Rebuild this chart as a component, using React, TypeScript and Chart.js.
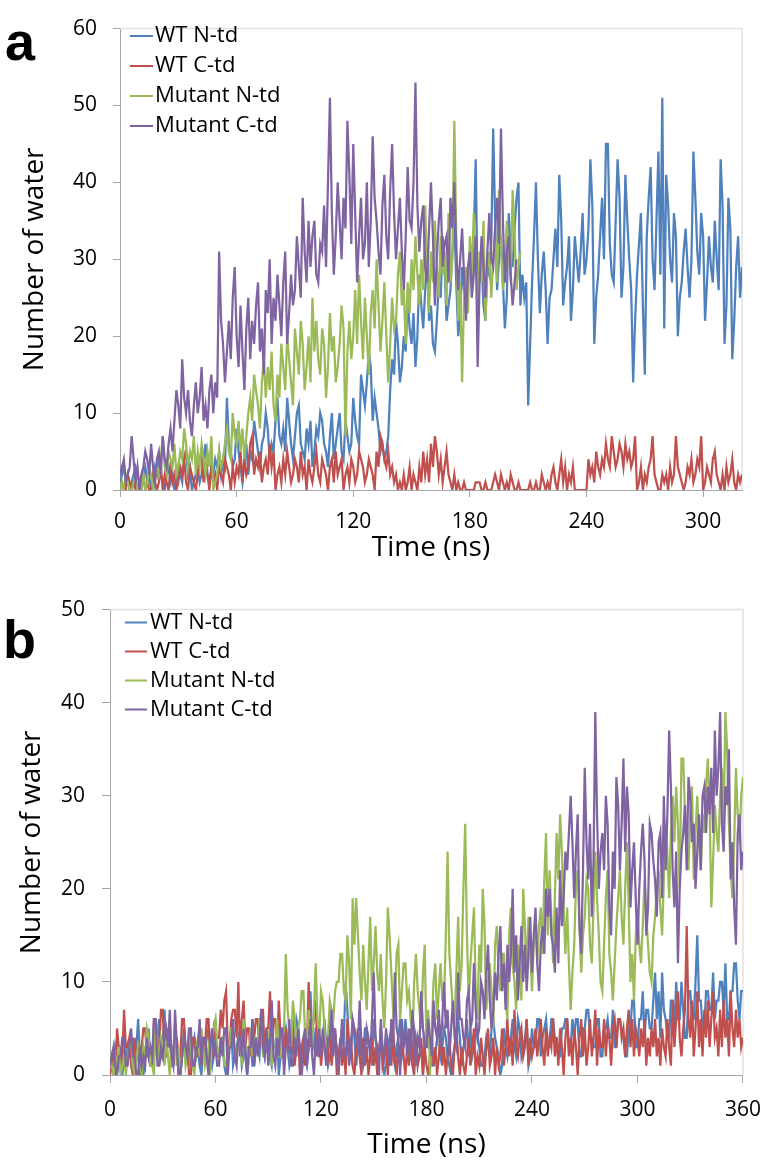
import React, { useEffect, useRef } from "react";
import { Chart, registerables } from "chart.js";

Chart.register(...registerables);

// ---------- shared ----------
const SERIES_NAMES = ["WT N-td", "WT C-td", "Mutant N-td", "Mutant C-td"];
const SERIES_COLORS = ["#4F81BD", "#C0504D", "#9BBB59", "#8064A2"];
const TIME_STEP_NS = 1;
const X_TITLE = "Time (ns)";
const Y_TITLE = "Number of water";

// ---------- panel a (one value per ns) ----------
const A_X_MAX = 320;
const A_Y_MAX = 60;
const A_X_TICKS = [0, 60, 120, 180, 240, 300];
const A_Y_TICKS = [0, 10, 20, 30, 40, 50, 60];

const A_WT_N = [
  1, 2, 3, 1, 2, 0, 1, 2, 3, 2, 1, 0, 2, 3, 1, 2, 0, 1, 3, 2,
  4, 2, 1, 0, 2, 3, 1, 2, 0, 1, 3, 2, 1, 4, 5, 2, 3, 0, 1, 2,
  3, 1, 2, 4, 6, 2, 1, 3, 2, 4, 3, 5, 2, 4, 3, 12, 6, 5, 3, 4,
  8, 5, 3, 1, 4, 6, 2, 5, 4, 9, 7, 5, 3, 6, 7, 10, 8, 4, 6, 5,
  9, 12, 7, 6, 8, 5, 12, 9, 6, 4, 7, 10, 11, 6, 5, 4, 8, 6, 9, 3,
  5, 8, 7, 10, 9, 6, 5, 3, 7, 10, 4, 6, 8, 10, 5, 4, 9, 7, 5, 6,
  12, 9, 7, 6, 15, 13, 11, 14, 18, 16, 9, 12, 10, 8, 5, 6, 4, 5, 7, 13,
  17, 15, 22, 19, 14, 16, 20, 18, 25, 21, 19, 23, 16, 20, 28, 24, 21, 26, 30, 22,
  24, 19, 18, 22, 27, 25, 33, 29, 22, 24, 26, 31, 35, 27, 20, 23, 29, 26, 24, 28,
  31, 27, 33, 43, 25, 28, 30, 24, 22, 29, 28, 32, 47, 35, 26, 30, 33, 27, 21, 25,
  36, 31, 29, 34, 38, 40, 24, 28, 25, 27, 11, 19, 27, 33, 40, 30, 23, 28, 31, 26,
  19, 25, 26, 30, 34, 29, 41, 35, 24, 27, 29, 33, 22, 26, 33, 30, 27, 31, 36, 28,
  30, 34, 43, 37, 19, 25, 28, 33, 38, 30, 45, 45, 32, 28, 27, 35, 43, 38, 25, 29,
  41, 35, 30, 26, 14, 22, 28, 32, 36, 24, 15, 33, 38, 42, 30, 26, 35, 44, 28, 51,
  21, 41, 37, 30, 27, 36, 33, 20, 25, 27, 31, 34, 29, 25, 30, 44, 38, 31, 28, 36,
  33, 22, 27, 33, 29, 27, 35, 30, 26, 43, 37, 19, 24, 38, 34, 17, 22, 29, 33, 25,
  29,
];
const A_WT_C = [
  0, 1, 0, 0, 2, 1, 0, 1, 0, 0, 1, 0, 2, 0, 1, 0, 0, 2, 1, 0,
  1, 3, 0, 2, 1, 0, 3, 1, 2, 0, 1, 3, 2, 4, 1, 0, 3, 2, 1, 0,
  2, 4, 5, 1, 3, 2, 0, 3, 1, 2, 0, 3, 2, 1, 4, 3, 2, 0, 3, 1,
  3, 2, 5, 1, 4, 2, 3, 6, 7, 2, 4, 3, 5, 1, 3, 4, 2, 6, 3, 5,
  0, 2, 3, 1, 4, 2, 5, 3, 1, 2, 4, 3, 1, 5, 2, 3, 0, 4, 2, 1,
  3, 5, 2, 1, 4, 3, 2, 0, 3, 4, 1, 5, 2, 3, 4, 0, 2, 3, 1, 4,
  3, 1, 2, 5, 4, 3, 1, 2, 4, 3, 2, 0, 5, 3, 7, 6, 4, 3, 5, 2,
  3, 1, 2, 0, 1, 0, 2, 0, 1, 3, 0, 2, 1, 0, 3, 1, 5, 2, 4, 1,
  6, 3, 7, 5, 2, 4, 1, 3, 5, 2, 1, 0, 2, 0, 1, 0, 0, 1, 0, 0,
  0, 0, 0, 1, 1, 1, 0, 0, 1, 0, 0, 0, 1, 2, 1, 0, 2, 1, 0, 1,
  0, 2, 1, 0, 0, 1, 0, 0, 0, 0, 0, 1, 0, 0, 1, 0, 0, 2, 1, 0,
  1, 0, 2, 3, 1, 0, 2, 4, 1, 3, 0, 2, 1, 3, 0, 0, 0, 0, 0, 0,
  0, 4, 2, 3, 1, 5, 3, 2, 4, 3, 6, 4, 3, 7, 5, 3, 4, 6, 5, 3,
  6, 4, 5, 3, 4, 7, 0, 1, 3, 0, 2, 1, 3, 4, 7, 2, 1, 0, 0, 2,
  1, 2, 0, 3, 1, 2, 7, 3, 2, 1, 0, 1, 3, 2, 4, 1, 2, 4, 3, 7,
  0, 1, 3, 2, 1, 4, 5, 2, 1, 0, 2, 0, 3, 1, 2, 4, 1, 0, 2, 1,
  2,
];
const A_MUT_N = [
  0, 1, 0, 2, 1, 0, 0, 1, 2, 0, 1, 0, 2, 0, 1, 3, 2, 0, 1, 3,
  2, 4, 7, 3, 2, 5, 4, 3, 6, 2, 3, 5, 4, 8, 6, 3, 5, 4, 7, 2,
  5, 3, 6, 4, 2, 5, 3, 7, 0, 1, 2, 5, 3, 4, 6, 8, 5, 4, 10, 7,
  6, 9, 5, 8, 4, 7, 10, 12, 9, 15, 13, 11, 8, 14, 17, 12, 16, 13, 18, 11,
  9, 15, 12, 19, 16, 13, 20, 17, 14, 11, 21, 18, 15, 22, 19, 13, 16, 20, 14, 25,
  18, 22, 17, 15, 21, 19, 12, 16, 23, 18, 20, 14, 16, 19, 24, 21, 7, 18, 22, 17,
  20, 26, 19, 28, 22, 17, 25, 20, 15, 23, 26, 21, 30, 24, 18, 22, 27, 20, 14, 19,
  25, 21, 22, 28, 31, 24, 26, 19, 27, 23, 30, 26, 33, 28, 24, 30, 26, 37, 29, 23,
  31, 27, 35, 29, 25, 33, 28, 31, 24, 36, 27, 30, 48, 33, 22, 27, 14, 25, 29, 23,
  33, 28, 36, 30, 24, 31, 27, 35, 22, 29, 31, 25, 30, 34, 27, 39, 32, 26, 28, 35,
  31, 27, 39, 33, 26, 29, 31,
];
const A_MUT_C = [
  2, 3, 4, 1, 2, 3, 7, 4, 1, 3, 0, 2, 3, 5, 4, 2, 6, 3, 1, 4,
  5, 2, 7, 4, 3, 6, 8, 5, 9, 13, 11, 8, 17, 12, 10, 13, 9, 7, 11, 14,
  10, 12, 16, 9, 11, 8, 13, 15, 10, 14, 12, 31, 22, 19, 14, 18, 22, 17, 25, 29,
  20, 16, 24, 18, 13, 21, 25, 17, 22, 19, 24, 27, 18, 21, 15, 26, 23, 30, 19, 25,
  22, 28, 24, 20, 27, 31, 19, 23, 28, 24, 26, 33, 29, 25, 38, 31, 27, 35, 29, 33,
  35, 28, 27, 32, 31, 37, 29, 40, 51, 36, 28, 33, 40, 35, 30, 38, 34, 48, 41, 32,
  45, 36, 27, 33, 38, 30, 32, 40, 29, 35, 46, 38, 35, 31, 28, 37, 41, 33, 30, 39,
  45, 36, 30, 34, 38, 31, 26, 33, 42, 35, 34, 40, 53, 37, 31, 35, 37, 29, 27, 34,
  40, 33, 24, 30, 35, 38, 29, 32, 33, 27, 38, 34, 40, 31, 26, 30, 34, 28, 22, 29,
  31, 25, 28, 33, 16, 27, 33, 29, 25, 31, 36, 30, 29, 34, 38, 32, 47, 35, 27, 31,
  33, 28, 24, 27, 30,
];

// ---------- panel b (one value per ns) ----------
const B_X_MAX = 360;
const B_Y_MAX = 50;
const B_X_TICKS = [0, 60, 120, 180, 240, 300, 360];
const B_Y_TICKS = [0, 10, 20, 30, 40, 50];

const B_WT_N = [
  1, 2, 0, 3, 2, 1, 3, 0, 2, 1, 3, 2, 2, 4, 1, 3, 6, 2, 3, 0,
  2, 3, 5, 1, 1, 2, 3, 4, 6, 2, 3, 7, 2, 4, 4, 1, 1, 3, 3, 0,
  0, 2, 5, 3, 2, 4, 1, 3, 4, 2, 3, 1, 0, 3, 2, 4, 5, 2, 1, 3,
  6, 2, 2, 4, 4, 1, 0, 3, 3, 5, 1, 2, 3, 4, 5, 1, 2, 3, 0, 2,
  4, 1, 1, 3, 3, 2, 6, 4, 2, 3, 4, 2, 1, 3, 3, 5, 0, 2, 2, 4,
  5, 3, 1, 2, 3, 4, 6, 5, 2, 3, 4, 2, 1, 3, 9, 4, 3, 5, 5, 2,
  2, 4, 6, 3, 1, 2, 3, 5, 4, 3, 2, 3, 5, 4, 10, 7, 3, 2, 6, 4,
  1, 3, 4, 2, 2, 5, 5, 3, 3, 1, 6, 4, 2, 3, 4, 2, 0, 1, 3, 4,
  5, 2, 1, 3, 4, 6, 2, 3, 6, 4, 3, 2, 1, 5, 4, 2, 2, 3, 0, 4,
  5, 3, 3, 1, 1, 2, 4, 5, 2, 3, 5, 4, 2, 1, 0, 2, 3, 5, 6, 4,
  1, 3, 4, 6, 2, 5, 2, 3, 5, 4, 3, 1, 1, 2, 4, 3, 2, 5, 6, 4,
  3, 2, 0, 1, 5, 3, 2, 4, 4, 6, 3, 2, 6, 5, 2, 3, 4, 6, 1, 2,
  5, 3, 3, 6, 6, 2, 4, 5, 6, 3, 3, 6, 6, 4, 4, 2, 2, 5, 5, 6,
  6, 3, 3, 6, 4, 6, 6, 2, 2, 5, 5, 7, 7, 4, 4, 3, 3, 6, 6, 2,
  2, 5, 5, 6, 4, 4, 7, 3, 3, 6, 6, 5, 4, 2, 2, 5, 5, 8, 8, 3,
  3, 6, 6, 9, 4, 7, 7, 5, 5, 8, 11, 6, 9, 4, 11, 7, 6, 4, 4, 8,
  8, 5, 10, 6, 6, 10, 7, 4, 4, 9, 9, 6, 6, 10, 15, 8, 8, 5, 5, 9,
  9, 7, 7, 11, 6, 8, 8, 10, 10, 7, 12, 6, 6, 9, 9, 12, 12, 8, 6, 9,
  9,
];
const B_WT_C = [
  0, 1, 2, 0, 5, 3, 1, 2, 7, 3, 3, 4, 1, 0, 4, 2, 2, 0, 3, 5,
  5, 2, 2, 1, 1, 6, 6, 3, 3, 7, 7, 2, 2, 5, 3, 3, 1, 4, 4, 2,
  2, 6, 6, 3, 3, 0, 0, 4, 4, 2, 2, 5, 1, 3, 3, 6, 6, 2, 2, 5,
  4, 4, 4, 7, 5, 8, 9, 3, 3, 6, 7, 7, 4, 10, 2, 6, 8, 3, 5, 5,
  2, 6, 4, 6, 6, 3, 7, 7, 2, 5, 5, 9, 3, 6, 6, 2, 8, 4, 4, 1,
  5, 3, 3, 2, 6, 1, 3, 5, 0, 2, 4, 1, 3, 10, 3, 5, 6, 8, 2, 4,
  1, 3, 5, 3, 2, 6, 1, 3, 5, 0, 2, 4, 1, 3, 0, 6, 2, 4, 1, 0,
  3, 5, 2, 0, 4, 1, 3, 0, 2, 4, 1, 3, 0, 2, 5, 1, 2, 4, 0, 3,
  1, 5, 2, 0, 3, 1, 4, 2, 0, 3, 1, 5, 2, 0, 4, 1, 2, 4, 0, 3,
  1, 0, 2, 4, 1, 3, 0, 2, 5, 1, 3, 0, 2, 4, 1, 0, 3, 5, 2, 0,
  3, 1, 0, 2, 4, 1, 3, 5, 0, 2, 1, 4, 2, 0, 3, 5, 1, 2, 4, 0,
  3, 1, 2, 5, 1, 3, 6, 2, 4, 1, 7, 3, 2, 4, 5, 2, 3, 6, 1, 4,
  2, 3, 5, 2, 4, 6, 3, 1, 5, 2, 4, 3, 6, 2, 4, 1, 5, 3, 0, 4,
  6, 2, 4, 1, 5, 3, 0, 4, 6, 2, 5, 1, 3, 6, 2, 4, 7, 1, 5, 3,
  3, 6, 2, 5, 4, 1, 5, 6, 3, 6, 6, 4, 5, 2, 5, 7, 3, 6, 2, 5,
  4, 2, 5, 3, 6, 1, 4, 2, 5, 3, 6, 2, 4, 1, 5, 3, 2, 6, 3, 1,
  8, 3, 6, 9, 4, 2, 5, 7, 16, 6, 4, 8, 2, 5, 9, 3, 6, 2, 7, 4,
  8, 3, 6, 9, 4, 5, 2, 7, 3, 8, 4, 6, 2, 9, 5, 3, 7, 4, 6, 3,
  4,
];
const B_MUT_N = [
  2, 1, 0, 2, 1, 3, 0, 1, 2, 0, 2, 3, 4, 1, 0, 2, 3, 1, 0, 3,
  2, 5, 4, 1, 1, 0, 6, 3, 2, 4, 3, 1, 4, 2, 0, 3, 2, 5, 1, 3,
  0, 2, 4, 1, 2, 5, 3, 1, 0, 3, 4, 2, 5, 3, 1, 2, 3, 0, 4, 5,
  6, 3, 2, 4, 4, 1, 1, 3, 3, 5, 5, 2, 2, 4, 4, 1, 6, 3, 3, 2,
  5, 2, 4, 4, 3, 6, 6, 2, 2, 4, 4, 5, 1, 3, 3, 6, 2, 2, 4, 5,
  13, 7, 5, 3, 8, 6, 3, 5, 6, 9, 9, 4, 4, 7, 5, 3, 7, 12, 6, 4,
  9, 8, 5, 2, 4, 8, 7, 6, 9, 10, 10, 13, 13, 9, 8, 15, 12, 6, 19, 14,
  19, 15, 11, 8, 14, 10, 7, 12, 17, 9, 12, 16, 11, 9, 13, 8, 5, 10, 18, 15,
  11, 7, 8, 13, 14, 6, 9, 12, 12, 8, 9, 6, 4, 10, 13, 9, 7, 5, 11, 14,
  3, 7, 0, 5, 10, 12, 6, 9, 12, 8, 8, 15, 24, 13, 10, 7, 6, 11, 17, 9,
  12, 20, 27, 15, 8, 12, 15, 18, 9, 6, 14, 11, 20, 16, 7, 10, 12, 9, 5, 14,
  16, 11, 9, 13, 13, 8, 6, 15, 18, 12, 10, 7, 14, 11, 8, 20, 16, 11, 17, 13,
  9, 14, 17, 12, 16, 18, 13, 21, 26, 15, 22, 17, 12, 19, 26, 21, 28, 24, 18, 13,
  18, 12, 7, 11, 14, 20, 22, 16, 11, 15, 17, 21, 20, 14, 12, 18, 24, 19, 15, 10,
  9, 14, 19, 22, 13, 11, 8, 12, 16, 19, 22, 17, 14, 20, 25, 18, 10, 13, 8, 15,
  18, 14, 12, 16, 21, 17, 14, 11, 10, 15, 17, 20, 22, 18, 15, 21, 27, 24, 19, 26,
  30, 25, 31, 27, 20, 34, 34, 28, 24, 22, 28, 31, 21, 26, 30, 25, 22, 28, 26, 31,
  34, 29, 18, 23, 29, 26, 24, 30, 33, 27, 39, 35, 27, 22, 19, 25, 33, 28, 25, 30,
  32,
];
const B_MUT_C = [
  1, 2, 3, 1, 0, 2, 2, 4, 4, 1, 1, 3, 5, 2, 2, 0, 0, 3, 1, 2,
  1, 4, 2, 3, 2, 6, 6, 1, 1, 3, 2, 4, 5, 3, 7, 2, 1, 7, 3, 0,
  0, 2, 4, 3, 2, 5, 5, 1, 1, 3, 3, 6, 1, 4, 4, 2, 0, 3, 5, 2,
  3, 1, 1, 4, 2, 5, 5, 0, 3, 3, 6, 2, 1, 4, 4, 2, 5, 2, 0, 3,
  3, 6, 1, 4, 2, 4, 7, 3, 2, 5, 1, 3, 8, 2, 1, 4, 2, 5, 5, 0,
  3, 3, 6, 1, 1, 4, 2, 5, 3, 0, 2, 5, 1, 3, 6, 2, 0, 4, 2, 5,
  2, 5, 3, 1, 4, 4, 7, 2, 5, 2, 0, 3, 6, 2, 2, 4, 1, 3, 6, 5,
  4, 3, 8, 3, 1, 2, 5, 4, 2, 6, 11, 4, 3, 0, 6, 3, 2, 5, 3, 1,
  6, 3, 11, 5, 4, 0, 6, 3, 5, 2, 5, 2, 7, 4, 1, 4, 3, 9, 5, 3,
  3, 6, 4, 2, 8, 5, 4, 7, 3, 6, 10, 5, 7, 2, 5, 8, 4, 3, 11, 6,
  6, 4, 3, 8, 9, 5, 6, 12, 7, 4, 5, 10, 9, 6, 11, 14, 8, 5, 7, 11,
  8, 13, 16, 9, 12, 7, 14, 10, 13, 20, 11, 15, 8, 12, 16, 10, 14, 9, 13, 17,
  11, 15, 18, 12, 9, 14, 16, 13, 20, 17, 20, 15, 14, 11, 18, 12, 22, 16, 19, 24,
  22, 26, 30, 25, 19, 24, 28, 16, 13, 22, 33, 25, 21, 27, 17, 23, 39, 28, 20, 24,
  26, 22, 30, 27, 18, 15, 24, 20, 32, 29, 22, 27, 34, 24, 31, 28, 18, 22, 25, 19,
  14, 20, 24, 27, 23, 15, 18, 27, 26, 23, 21, 17, 25, 26, 19, 30, 22, 28, 37, 31,
  22, 18, 24, 12, 20, 24, 26, 29, 22, 32, 30, 25, 27, 20, 24, 28, 22, 30, 31, 26,
  31, 28, 33, 26, 37, 30, 33, 39, 27, 24, 31, 29, 35, 21, 25, 18, 14, 26, 28, 22,
  24,
];

// ---------- styling ----------
const FONT = '"Open Sans", sans-serif';
const AXIS_COLOR = "#a6a6a6";
const FRAME_COLOR = "#e2e2e2";
const TICK_FONT_SIZE = 21;
const TITLE_FONT_SIZE = 28;
const LEGEND_FONT_SIZE = 22;
const LINE_WIDTH = 2.25;

type Layout = {
  canvasTop: number;
  canvasHeight: number;
  padTop: number;
  padRight: number;
  yAxisWidth: number;
  xAxisHeight: number;
  xTickLen: number;
  xTickPad: number;
  yTickLen: number;
  yTickPad: number;
  yTitlePad: number;
  legendLineX0: number;
  legendLineX1: number;
  legendTextX: number;
  legendRowY0: number;
  legendRowGap: number;
};

const LAYOUT_A: Layout = {
  canvasTop: 0,
  canvasHeight: 565,
  padTop: 17,
  padRight: 33,
  yAxisWidth: 120,
  xAxisHeight: 75,
  xTickLen: 7,
  xTickPad: 12,
  yTickLen: 7,
  yTickPad: 16,
  yTitlePad: 18,
  legendLineX0: 130,
  legendLineX1: 153,
  legendTextX: 155,
  legendRowY0: 36,
  legendRowGap: 30,
};

const LAYOUT_B: Layout = {
  canvasTop: 580,
  canvasHeight: 582,
  padTop: 28,
  padRight: 29,
  yAxisWidth: 110,
  xAxisHeight: 87,
  xTickLen: 8,
  xTickPad: 14,
  yTickLen: 8,
  yTickPad: 17,
  yTitlePad: 15,
  legendLineX0: 125,
  legendLineX1: 147,
  legendTextX: 150,
  legendRowY0: 42.5,
  legendRowGap: 29,
};

function Panel(props: {
  series: number[][];
  xMax: number;
  yMax: number;
  xTicks: number[];
  yTicks: number[];
  lay: Layout;
}) {
  const { series, xMax, yMax, xTicks, yTicks, lay } = props;
  const ref = useRef<HTMLCanvasElement | null>(null);

  useEffect(() => {
    const canvas = ref.current;
    if (!canvas) return;

    const datasets = series.map((vals, i) => ({
      label: SERIES_NAMES[i],
      data: vals.map((v, k) => ({ x: k * TIME_STEP_NS, y: v })),
      borderColor: SERIES_COLORS[i],
      backgroundColor: SERIES_COLORS[i],
      borderWidth: LINE_WIDTH,
      pointRadius: 0,
      tension: 0,
      fill: false,
      order: series.length - i,
    }));

    const framePlugin = {
      id: "plotFrame",
      beforeDatasetsDraw(chart: any) {
        const { ctx, chartArea } = chart;
        ctx.save();
        ctx.strokeStyle = FRAME_COLOR;
        ctx.lineWidth = 1.5;
        ctx.beginPath();
        ctx.moveTo(chartArea.left, chartArea.top);
        ctx.lineTo(chartArea.right, chartArea.top);
        ctx.lineTo(chartArea.right, chartArea.bottom);
        ctx.stroke();
        ctx.restore();
      },
    };

    const legendPlugin = {
      id: "insideLegend",
      afterDatasetsDraw(chart: any) {
        const ctx = chart.ctx;
        ctx.save();
        ctx.font = `${LEGEND_FONT_SIZE}px ${FONT}`;
        ctx.textBaseline = "middle";
        ctx.textAlign = "left";
        SERIES_NAMES.forEach((name, i) => {
          const y = lay.legendRowY0 + i * lay.legendRowGap;
          ctx.strokeStyle = SERIES_COLORS[i];
          ctx.lineWidth = 2;
          ctx.beginPath();
          ctx.moveTo(lay.legendLineX0, y);
          ctx.lineTo(lay.legendLineX1, y);
          ctx.stroke();
          ctx.fillStyle = "#000";
          ctx.fillText(name, lay.legendTextX, y);
        });
        ctx.restore();
      },
    };

    const chart = new Chart(canvas, {
      type: "line",
      data: { datasets } as any,
      options: {
        animation: false,
        responsive: false,
        devicePixelRatio: 1,
        events: [],
        layout: {
          padding: { top: lay.padTop, right: lay.padRight, bottom: 0, left: 0 },
        },
        plugins: {
          legend: { display: false },
          tooltip: { enabled: false },
        },
        scales: {
          x: {
            type: "linear",
            min: 0,
            max: xMax,
            afterBuildTicks: (s: any) => {
              s.ticks = xTicks.map((v) => ({ value: v }));
            },
            afterFit: (s: any) => {
              s.height = lay.xAxisHeight;
            },
            grid: {
              display: true,
              drawOnChartArea: false,
              drawTicks: true,
              tickLength: lay.xTickLen,
              color: AXIS_COLOR,
              lineWidth: 1,
            },
            border: { display: true, color: AXIS_COLOR, width: 1 },
            ticks: {
              color: "#000",
              font: { family: FONT, size: TICK_FONT_SIZE },
              padding: lay.xTickPad,
              maxRotation: 0,
              autoSkip: false,
              callback: (v: any) => String(v),
            },
            title: {
              display: true,
              text: X_TITLE,
              color: "#000",
              font: { family: FONT, size: TITLE_FONT_SIZE },
              padding: { top: 0, bottom: 0 },
            },
          },
          y: {
            type: "linear",
            min: 0,
            max: yMax,
            afterBuildTicks: (s: any) => {
              s.ticks = yTicks.map((v) => ({ value: v }));
            },
            afterFit: (s: any) => {
              s.width = lay.yAxisWidth;
            },
            grid: {
              display: true,
              drawOnChartArea: false,
              drawTicks: true,
              tickLength: lay.yTickLen,
              color: AXIS_COLOR,
              lineWidth: 1,
            },
            border: { display: true, color: AXIS_COLOR, width: 1 },
            ticks: {
              color: "#000",
              font: { family: FONT, size: TICK_FONT_SIZE },
              padding: lay.yTickPad,
              autoSkip: false,
              callback: (v: any) => String(v),
            },
            title: {
              display: true,
              text: Y_TITLE,
              color: "#000",
              font: { family: FONT, size: TITLE_FONT_SIZE },
              padding: { top: lay.yTitlePad, bottom: 0 },
            },
          },
        },
      } as any,
      plugins: [framePlugin, legendPlugin],
    });

    return () => {
      chart.destroy();
    };
  }, []);

  return (
    <canvas
      ref={ref}
      width={775}
      height={lay.canvasHeight}
      style={{
        position: "absolute",
        left: 0,
        top: lay.canvasTop,
        width: 775,
        height: lay.canvasHeight,
      }}
    />
  );
}

const panelLetterStyle: React.CSSProperties = {
  position: "absolute",
  fontFamily: '"Liberation Sans", Arial, sans-serif',
  fontWeight: 700,
  fontSize: 54,
  lineHeight: "54px",
  color: "#000",
};

export default function App() {
  return (
    <div
      style={{
        position: "absolute",
        left: 0,
        top: 0,
        width: 775,
        height: 1171,
        background: "#fff",
        overflow: "hidden",
      }}
    >
      <Panel
        series={[A_WT_N, A_WT_C, A_MUT_N, A_MUT_C]}
        xMax={A_X_MAX}
        yMax={A_Y_MAX}
        xTicks={A_X_TICKS}
        yTicks={A_Y_TICKS}
        lay={LAYOUT_A}
      />
      <Panel
        series={[B_WT_N, B_WT_C, B_MUT_N, B_MUT_C]}
        xMax={B_X_MAX}
        yMax={B_Y_MAX}
        xTicks={B_X_TICKS}
        yTicks={B_Y_TICKS}
        lay={LAYOUT_B}
      />
      <div style={{ ...panelLetterStyle, left: 5, top: 14 }}>a</div>
      <div style={{ ...panelLetterStyle, left: 3, top: 612 }}>b</div>
    </div>
  );
}
